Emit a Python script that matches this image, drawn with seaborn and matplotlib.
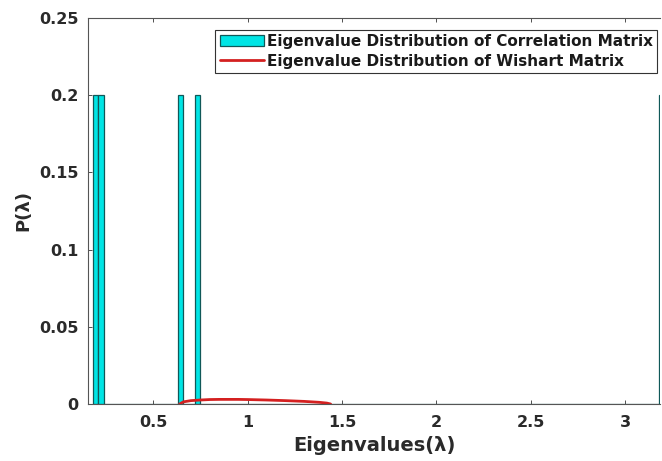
import matplotlib
matplotlib.use("Agg")
import matplotlib.pyplot as plt
import seaborn as sns
from matplotlib.ticker import FuncFormatter

# Eigenvalues of the correlation matrix
eigenvalues = [0.19, 0.22, 0.645, 0.735, 3.20]

# Wishart (Marchenko-Pastur) curve
wishart_x = [0.64, 0.66, 0.70, 0.75, 0.80, 0.85, 0.90, 0.95, 1.00, 1.10, 1.20, 1.30, 1.38, 1.42, 1.44]
wishart_y = [0.0, 0.0014, 0.0022, 0.0026, 0.0029, 0.0030, 0.0030, 0.0030, 0.0029, 0.0026, 0.0022, 0.0017, 0.0011, 0.0006, 0.0]

x_ticks = [0.5, 1, 1.5, 2, 2.5, 3]
y_ticks = [0, 0.05, 0.1, 0.15, 0.2, 0.25]

label_hist = "Eigenvalue Distribution of Correlation Matrix"
label_line = "Eigenvalue Distribution of Wishart Matrix"

sns.set_style("white")
plt.rcParams['font.family'] = ['DejaVu Sans']
plt.rcParams['font.weight'] = 'bold'

fig = plt.figure(figsize=(6.62, 4.61), dpi=100)
ax = fig.add_axes([0.133, 0.1236, 0.864, 0.8374])

sns.histplot(x=eigenvalues, binwidth=0.03, binrange=(0.18, 3.24), stat="probability",
             color="#00e5e5", edgecolor="#105858", linewidth=0.9, alpha=1.0,
             label=label_hist, ax=ax)
sns.lineplot(x=wishart_x, y=wishart_y, color="#d42020", linewidth=2.0,
             label=label_line, ax=ax)

ax.set_xlim(0.155, 3.185)
ax.set_ylim(0, 0.25)
ax.set_xticks(x_ticks)
ax.set_yticks(y_ticks)
ax.xaxis.set_major_formatter(FuncFormatter(lambda v, p: "%g" % v))
ax.yaxis.set_major_formatter(FuncFormatter(lambda v, p: "%g" % v))
ax.tick_params(axis='both', direction='in', length=3, width=0.6, colors='#333333',
               labelsize=11.5, top=True, right=False, bottom=True, left=True)
ax.tick_params(axis='x', pad=8)
ax.tick_params(axis='y', pad=7)
for lab in ax.get_xticklabels() + ax.get_yticklabels():
    lab.set_fontweight('bold')
    lab.set_color('#2a2a2a')
for sp in ax.spines.values():
    sp.set_color('#555555')
    sp.set_linewidth(0.8)
ax.spines['right'].set_visible(False)

ax.set_xlabel("Eigenvalues(λ)", fontsize=14, fontweight='bold', color='#2a2a2a', labelpad=4)
ax.set_ylabel("P(λ)", fontsize=13, fontweight='bold', color='#2a2a2a', labelpad=5)

handles, labels = ax.get_legend_handles_labels()
order = [labels.index(label_hist), labels.index(label_line)]
leg = ax.legend([handles[i] for i in order], [labels[i] for i in order],
                loc='upper right', bbox_to_anchor=(0.995, 0.97), fontsize=11,
                frameon=True, fancybox=False, edgecolor='#333333', framealpha=1,
                handlelength=2.9, handletextpad=0.15, borderpad=0.3, labelspacing=0.3,
                borderaxespad=0)
leg.get_frame().set_linewidth(0.8)
for t in leg.get_texts():
    t.set_fontweight('bold')
    t.set_color('#1a1a1a')

fig.savefig("out.png", dpi=100)
